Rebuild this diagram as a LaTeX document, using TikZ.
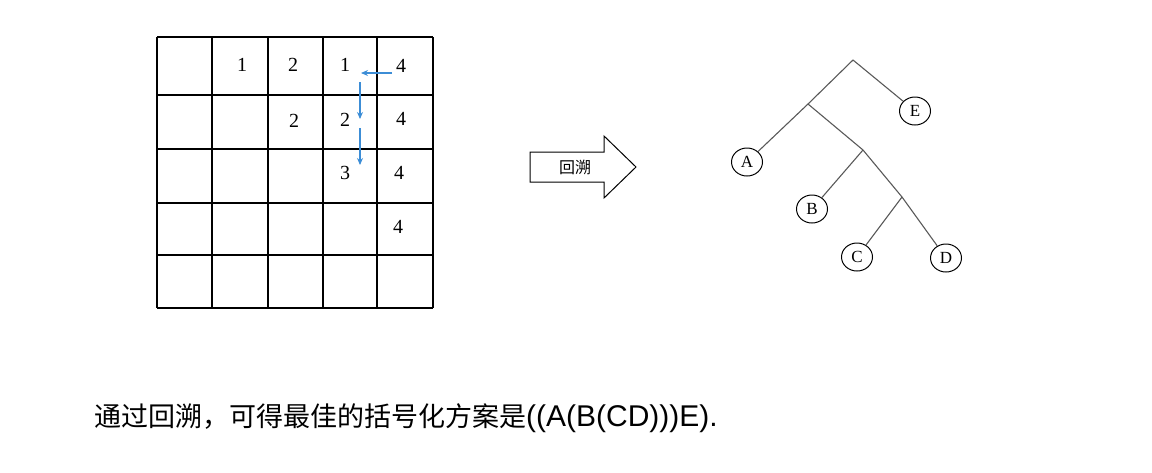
\documentclass[tikz,border=0pt]{standalone}
\usepackage{fontspec}
\setmainfont{Liberation Serif}
\newfontfamily\cjk{Noto Sans CJK SC}
\newfontfamily\lsans{Liberation Sans}
\usetikzlibrary{shapes.geometric,arrows.meta}
\definecolor{ablue}{HTML}{3C8DD6}
\begin{document}
\begin{tikzpicture}[x=1pt,y=-1pt,
  num/.style={font=\fontsize{20}{20}\selectfont},
  leaf/.style={draw,ellipse,line width=1pt,minimum width=31pt,minimum height=28pt,inner sep=0pt,font=\fontsize{17}{17}\selectfont},
  blu/.style={draw=ablue,line width=1.1pt,-{Stealth[length=7pt,width=6pt]}},
  br/.style={draw=black!65,line width=1.1pt}]
\useasboundingbox (0,0) rectangle (1152,472);
% grid
\foreach \x in {157,212,268,323,377,433} \draw[line width=1.3pt] (\x,37) -- (\x,308);
\foreach \y in {37,95,149,203,255,308} \draw[line width=1.3pt] (157,\y) -- (433,\y);
\node[num] (a1) at (242,65) {1};
\node[num] (a2) at (293,65) {2};
\node[num] (a3) at (345,65) {1};
\node[num] (a4) at (401,66) {4};
\node[num] (b2) at (294,121) {2};
\node[num] (b3) at (345,120) {2};
\node[num] (b4) at (401,119) {4};
\node[num] (c3) at (345,173) {3};
\node[num] (c4) at (399,173) {4};
\node[num] (d4) at (398,227) {4};
\coordinate (p1) at (392,73); \coordinate (p2) at (361,73);
\coordinate (p3) at (360,82); \coordinate (p4) at (360,119);
\coordinate (p5) at (360,128); \coordinate (p6) at (360,165);
\draw[blu] (p1) -- (p2);
\draw[blu] (p3) -- (p4);
\draw[blu] (p5) -- (p6);
% arrow
\draw[line width=1pt] (530,152) -- (604,152) -- (604,136) -- (636,167) -- (604,198) -- (604,182) -- (530,182) -- cycle;
\node[font=\cjk\fontsize{16}{16}\selectfont] (arr) at (575,167) {回溯};
% tree
\coordinate (r) at (853,60);
\coordinate (n1) at (808,104);
\coordinate (n2) at (863,150);
\coordinate (n3) at (902,197);
\node[leaf] (E) at (915,111) {E};
\node[leaf] (A) at (747,162) {A};
\node[leaf] (B) at (812,209) {B};
\node[leaf] (C) at (857,257) {C};
\node[leaf] (D) at (946,258) {D};
\draw[br] (r) -- (E);
\draw[br] (r) -- (n1);
\draw[br] (n1) -- (A);
\draw[br] (n1) -- (n2);
\draw[br] (n2) -- (B);
\draw[br] (n2) -- (n3);
\draw[br] (n3) -- (C);
\draw[br] (n3) -- (D);
% caption
\node[anchor=west,inner sep=0pt,font=\fontsize{27}{27}\selectfont] (cap) at (94,418) {{\cjk 通过回溯，可得最佳的括号化方案是}{\lsans\fontsize{30}{30}\selectfont((A(B(CD)))E).}};
\end{tikzpicture}
\end{document}
